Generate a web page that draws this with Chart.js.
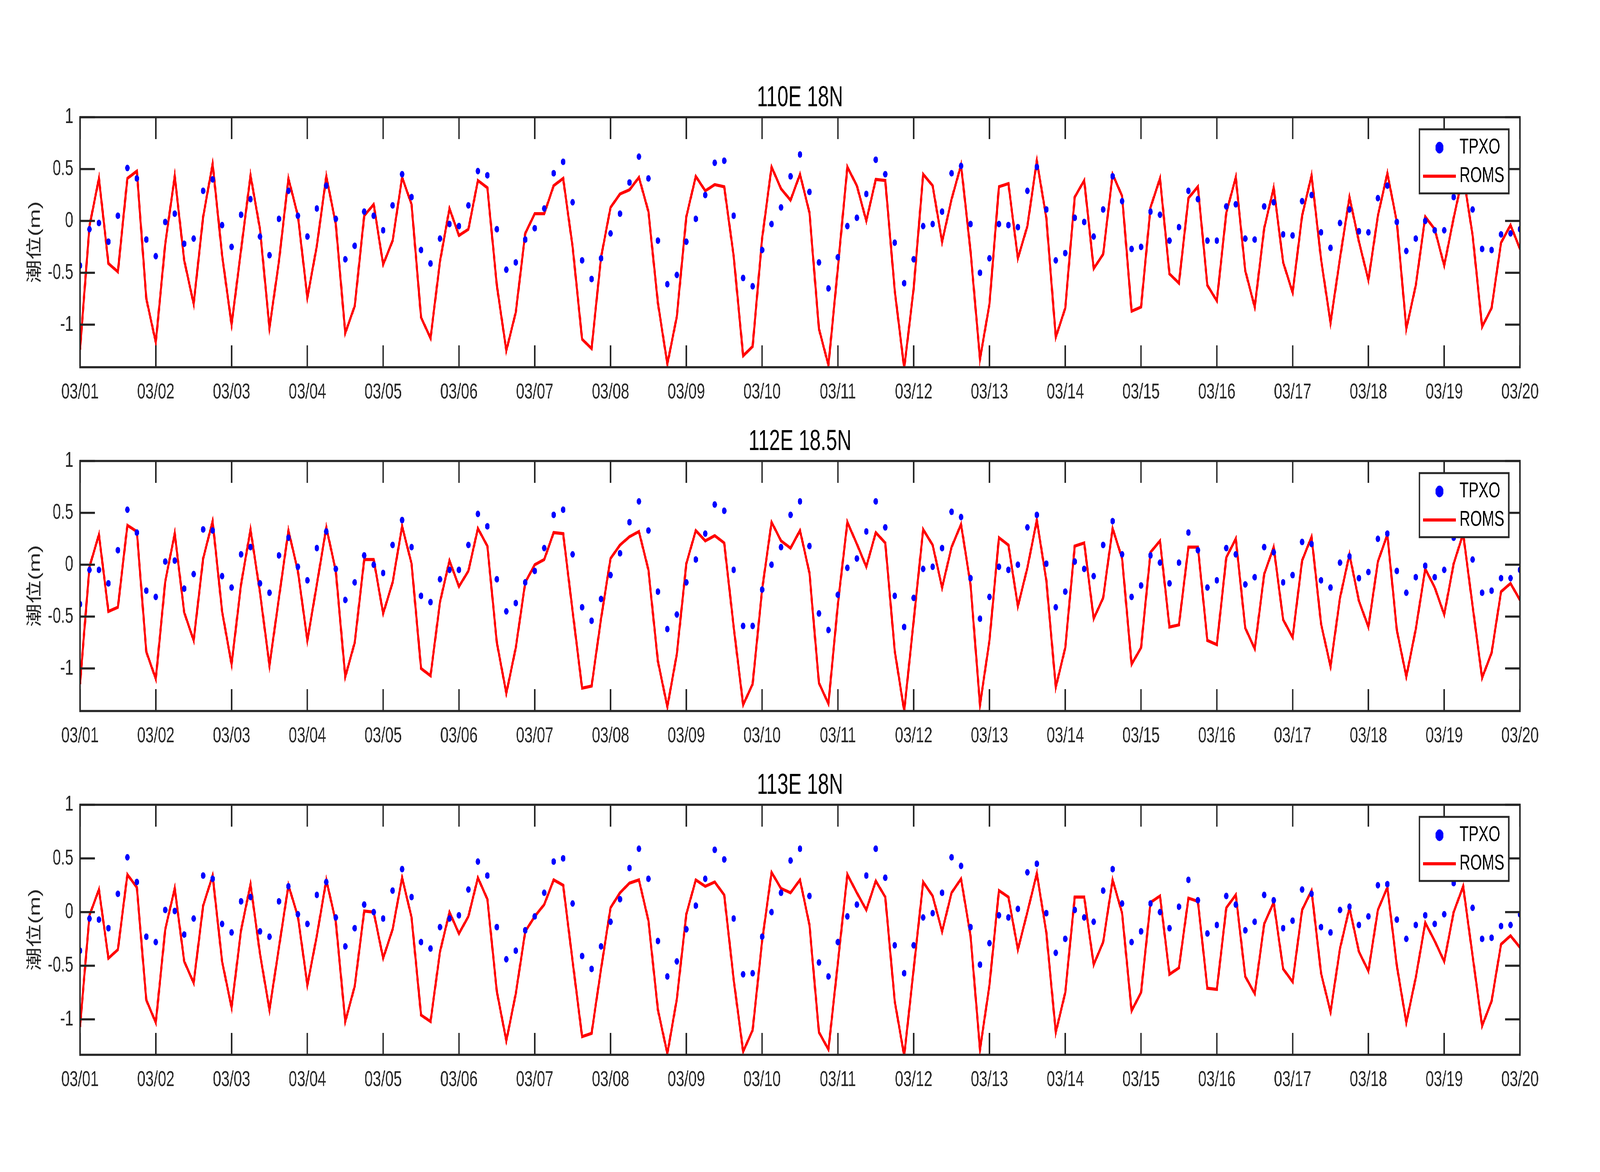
<!DOCTYPE html>
<html>
<head>
<meta charset="utf-8">
<script src="https://cdn.jsdelivr.net/npm/chart.js@4.4.1/dist/chart.umd.min.js"></script>
<style>
  html, body { margin: 0; padding: 0; background: #fff; overflow: hidden; }
  #stage { position: absolute; left: 0; top: 0; width: 6000px; height: 3000px; transform-origin: 0 0; background: #fff; }
  .panel { position: absolute; left: 0; width: 6000px; height: 1100px; }
</style>
</head>
<body>
<div id="stage">
  <div class="panel" style="top:0px"><canvas id="p110" width="6000" height="1100"></canvas></div>
  <div class="panel" style="top:880px"><canvas id="p112" width="6000" height="1100"></canvas></div>
  <div class="panel" style="top:1760px"><canvas id="p113" width="6000" height="1100"></canvas></div>
</div>
<script>
// the figure is laid out on a 6000x3000 stage and scaled to whatever window we get
const stage = document.getElementById('stage');
stage.style.transform = 'scale(' + (window.innerWidth / 6000) + ',' + (window.innerHeight / 3000) + ')';

// 03/01 00:00 .. 03/20 00:00, one value every 3 hours
const dayLabels = ['03/01', '03/02', '03/03', '03/04', '03/05', '03/06', '03/07', '03/08', '03/09', '03/10',
                   '03/11', '03/12', '03/13', '03/14', '03/15', '03/16', '03/17', '03/18', '03/19', '03/20'];
const stepsPerDay = 8;
const yTickVals = [-1, -0.5, 0, 0.5, 1];
const yTickLabels = ['-1', '-0.5', '0', '0.5', '1'];
const seriesNames = ['TPXO', 'ROMS'];
const yLabel = '潮位(m)';

const tpxo110 = [
  -0.43, -0.08, -0.02, -0.20, 0.05, 0.51, 0.41, -0.18,
  -0.34, -0.01, 0.07, -0.22, -0.17, 0.29, 0.40, -0.04,
  -0.25, 0.06, 0.21, -0.15, -0.33, 0.02, 0.29, 0.05,
  -0.15, 0.12, 0.34, 0.02, -0.37, -0.24, 0.09, 0.05,
  -0.09, 0.15, 0.45, 0.23, -0.28, -0.41, -0.17, -0.03,
  -0.05, 0.15, 0.48, 0.44, -0.08, -0.47, -0.40, -0.18,
  -0.07, 0.12, 0.46, 0.57, 0.18, -0.38, -0.56, -0.36,
  -0.12, 0.07, 0.37, 0.62, 0.41, -0.19, -0.61, -0.52,
  -0.20, 0.02, 0.25, 0.56, 0.58, 0.05, -0.55, -0.63,
  -0.28, -0.03, 0.13, 0.43, 0.64, 0.28, -0.40, -0.65,
  -0.35, -0.05, 0.03, 0.26, 0.59, 0.45, -0.21, -0.60,
  -0.37, -0.05, -0.03, 0.09, 0.46, 0.53, -0.03, -0.50,
  -0.36, -0.03, -0.04, -0.06, 0.29, 0.52, 0.11, -0.38,
  -0.31, 0.03, -0.01, -0.15, 0.11, 0.43, 0.19, -0.27,
  -0.25, 0.09, 0.06, -0.19, -0.06, 0.29, 0.21, -0.19,
  -0.19, 0.14, 0.16, -0.17, -0.18, 0.14, 0.18, -0.13,
  -0.14, 0.19, 0.25, -0.11, -0.26, -0.02, 0.11, -0.10,
  -0.11, 0.22, 0.34, -0.01, -0.29, -0.17, 0.00, -0.09,
  -0.09, 0.23, 0.32, 0.11, -0.27, -0.28, -0.13, -0.12,
  -0.08
];
const roms110 = [
  -1.24, -0.05, 0.41, -0.41, -0.49, 0.41, 0.48, -0.75,
  -1.17, -0.22, 0.43, -0.38, -0.80, 0.04, 0.55, -0.33,
  -1.00, -0.28, 0.44, -0.08, -1.03, -0.39, 0.41, 0.05,
  -0.74, -0.24, 0.43, -0.03, -1.08, -0.82, 0.05, 0.16,
  -0.42, -0.19, 0.42, 0.16, -0.93, -1.13, -0.39, 0.12,
  -0.14, -0.08, 0.39, 0.32, -0.62, -1.25, -0.88, -0.12,
  0.07, 0.07, 0.34, 0.41, -0.25, -1.14, -1.23, -0.35,
  0.13, 0.26, 0.30, 0.42, 0.09, -0.79, -1.38, -0.92,
  0.04, 0.43, 0.29, 0.35, 0.33, -0.34, -1.30, -1.21,
  -0.17, 0.52, 0.31, 0.20, 0.45, 0.08, -1.04, -1.39,
  -0.45, 0.52, 0.34, 0.00, 0.40, 0.39, -0.67, -1.42,
  -0.65, 0.45, 0.34, -0.20, 0.21, 0.54, -0.29, -1.33,
  -0.80, 0.33, 0.36, -0.36, -0.05, 0.58, 0.03, -1.12,
  -0.84, 0.23, 0.39, -0.46, -0.32, 0.45, 0.24, -0.87,
  -0.83, 0.13, 0.41, -0.51, -0.60, 0.22, 0.33, -0.62,
  -0.77, 0.08, 0.42, -0.48, -0.83, -0.07, 0.32, -0.40,
  -0.69, 0.05, 0.44, -0.37, -0.98, -0.36, 0.23, -0.20,
  -0.57, 0.05, 0.46, -0.01, -1.04, -0.62, 0.04, -0.08,
  -0.43, 0.03, 0.45, -0.14, -1.02, -0.84, -0.21, -0.04,
  -0.27
];
const tpxo112 = [
  -0.38, -0.05, -0.05, -0.18, 0.14, 0.53, 0.31, -0.25,
  -0.31, 0.03, 0.04, -0.23, -0.09, 0.34, 0.33, -0.11,
  -0.22, 0.10, 0.17, -0.18, -0.27, 0.09, 0.26, -0.02,
  -0.15, 0.16, 0.32, -0.04, -0.34, -0.17, 0.09, 0.00,
  -0.08, 0.19, 0.43, 0.17, -0.30, -0.36, -0.14, -0.05,
  -0.05, 0.19, 0.49, 0.37, -0.14, -0.45, -0.37, -0.17,
  -0.06, 0.16, 0.48, 0.53, 0.10, -0.41, -0.54, -0.33,
  -0.10, 0.11, 0.41, 0.61, 0.33, -0.26, -0.62, -0.48,
  -0.17, 0.05, 0.30, 0.58, 0.52, -0.05, -0.59, -0.59,
  -0.24, 0.00, 0.17, 0.48, 0.61, 0.18, -0.47, -0.63,
  -0.29, -0.03, 0.06, 0.32, 0.61, 0.36, -0.30, -0.60,
  -0.32, -0.04, -0.02, 0.16, 0.51, 0.46, -0.13, -0.52,
  -0.31, -0.02, -0.05, 0.00, 0.36, 0.48, 0.01, -0.41,
  -0.26, 0.03, -0.04, -0.11, 0.19, 0.42, 0.10, -0.31,
  -0.20, 0.09, 0.02, -0.18, 0.02, 0.31, 0.14, -0.22,
  -0.15, 0.16, 0.10, -0.19, -0.12, 0.17, 0.12, -0.17,
  -0.10, 0.22, 0.20, -0.15, -0.22, 0.02, 0.08, -0.13,
  -0.07, 0.25, 0.30, -0.06, -0.27, -0.12, -0.01, -0.12,
  -0.05, 0.26, 0.32, 0.05, -0.27, -0.25, -0.13, -0.13,
  -0.05
];
const roms112 = [
  -1.15, -0.02, 0.29, -0.45, -0.41, 0.38, 0.32, -0.84,
  -1.10, -0.16, 0.30, -0.46, -0.73, 0.06, 0.42, -0.45,
  -0.96, -0.19, 0.34, -0.27, -0.97, -0.32, 0.33, -0.06,
  -0.73, -0.19, 0.36, -0.06, -1.08, -0.75, 0.05, 0.05,
  -0.47, -0.17, 0.37, 0.01, -1.00, -1.07, -0.36, 0.04,
  -0.21, -0.06, 0.35, 0.18, -0.75, -1.24, -0.80, -0.17,
  0.00, 0.05, 0.31, 0.30, -0.45, -1.19, -1.17, -0.52,
  0.06, 0.19, 0.27, 0.32, -0.05, -0.93, -1.37, -0.86,
  0.01, 0.33, 0.23, 0.28, 0.21, -0.60, -1.35, -1.15,
  -0.24, 0.41, 0.23, 0.16, 0.33, -0.08, -1.14, -1.34,
  -0.38, 0.41, 0.20, -0.02, 0.31, 0.21, -0.83, -1.41,
  -0.54, 0.34, 0.19, -0.22, 0.17, 0.39, -0.19, -1.35,
  -0.73, 0.26, 0.19, -0.40, -0.03, 0.43, -0.15, -1.18,
  -0.80, 0.18, 0.21, -0.52, -0.32, 0.35, 0.06, -0.96,
  -0.80, 0.12, 0.23, -0.60, -0.58, 0.17, 0.17, -0.73,
  -0.77, 0.07, 0.25, -0.61, -0.81, -0.09, 0.17, -0.53,
  -0.70, 0.04, 0.27, -0.57, -0.98, -0.32, 0.10, -0.35,
  -0.60, 0.03, 0.29, -0.63, -1.08, -0.62, -0.04, -0.22,
  -0.48, 0.01, 0.30, -0.40, -1.09, -0.85, -0.26, -0.18,
  -0.34
];
const tpxo113 = [
  -0.36, -0.06, -0.07, -0.15, 0.17, 0.51, 0.28, -0.23,
  -0.28, 0.02, 0.01, -0.21, -0.06, 0.34, 0.31, -0.11,
  -0.19, 0.10, 0.14, -0.18, -0.23, 0.10, 0.24, -0.02,
  -0.11, 0.16, 0.28, -0.05, -0.32, -0.15, 0.07, 0.00,
  -0.06, 0.20, 0.40, 0.14, -0.28, -0.34, -0.14, -0.06,
  -0.03, 0.21, 0.47, 0.34, -0.14, -0.44, -0.36, -0.17,
  -0.04, 0.18, 0.47, 0.50, 0.08, -0.41, -0.53, -0.32,
  -0.09, 0.12, 0.41, 0.59, 0.31, -0.27, -0.60, -0.46,
  -0.16, 0.06, 0.31, 0.58, 0.49, -0.06, -0.58, -0.57,
  -0.23, 0.00, 0.18, 0.48, 0.59, 0.15, -0.47, -0.60,
  -0.28, -0.04, 0.07, 0.34, 0.59, 0.32, -0.31, -0.57,
  -0.31, -0.05, -0.01, 0.18, 0.51, 0.43, -0.14, -0.49,
  -0.29, -0.03, -0.05, 0.03, 0.37, 0.45, -0.01, -0.38,
  -0.25, 0.02, -0.05, -0.09, 0.20, 0.40, 0.08, -0.28,
  -0.18, 0.08, 0.00, -0.15, 0.05, 0.30, 0.11, -0.20,
  -0.12, 0.15, 0.07, -0.17, -0.09, 0.16, 0.11, -0.15,
  -0.08, 0.21, 0.17, -0.14, -0.19, 0.02, 0.05, -0.12,
  -0.04, 0.25, 0.26, -0.07, -0.25, -0.12, -0.03, -0.11,
  -0.02, 0.27, 0.33, 0.04, -0.25, -0.24, -0.13, -0.12,
  -0.02
];
const roms113 = [
  -1.07, -0.03, 0.21, -0.43, -0.35, 0.35, 0.23, -0.82,
  -1.03, -0.16, 0.22, -0.46, -0.66, 0.06, 0.34, -0.46,
  -0.89, -0.17, 0.26, -0.39, -0.91, -0.33, 0.25, -0.04,
  -0.68, -0.22, 0.30, -0.09, -1.02, -0.69, 0.01, 0.00,
  -0.43, -0.16, 0.32, -0.05, -0.96, -1.02, -0.37, 0.00,
  -0.20, -0.04, 0.32, 0.12, -0.74, -1.20, -0.76, -0.18,
  -0.04, 0.07, 0.30, 0.25, -0.46, -1.16, -1.13, -0.53,
  0.04, 0.18, 0.27, 0.30, -0.08, -0.91, -1.32, -0.81,
  -0.02, 0.30, 0.24, 0.28, 0.16, -0.63, -1.30, -1.10,
  -0.27, 0.37, 0.22, 0.18, 0.30, -0.12, -1.12, -1.28,
  -0.47, 0.35, 0.18, 0.02, 0.29, 0.14, -0.83, -1.34,
  -0.53, 0.28, 0.15, -0.18, 0.18, 0.31, -0.22, -1.28,
  -0.68, 0.20, 0.14, -0.35, 0.00, 0.36, -0.19, -1.12,
  -0.75, 0.14, 0.14, -0.49, -0.28, 0.30, -0.01, -0.92,
  -0.75, 0.09, 0.15, -0.58, -0.52, 0.13, 0.10, -0.71,
  -0.72, 0.04, 0.16, -0.60, -0.76, -0.11, 0.09, -0.53,
  -0.65, 0.02, 0.20, -0.57, -0.93, -0.34, 0.04, -0.37,
  -0.55, 0.02, 0.23, -0.50, -1.03, -0.61, -0.10, -0.27,
  -0.46, 0.00, 0.24, -0.41, -1.06, -0.83, -0.30, -0.22,
  -0.33
];

const panels = [
  { id: 'p110', title: '110E 18N',   yMin: -1.41, tpxo: tpxo110, roms: roms110 },
  { id: 'p112', title: '112E 18.5N', yMin: -1.41, tpxo: tpxo112, roms: roms112 },
  { id: 'p113', title: '113E 18N',   yMin: -1.33, tpxo: tpxo113, roms: roms113 }
];

const FONT = "'Liberation Sans', Arial, 'Noto Sans CJK SC', sans-serif";
const AXIS_COLOR = '#262626';
const TICK_LEN = 56;
const PLOT_TOP = 300;
const PLOT_H = 640;
const CANVAS_H = 1100;

// matlab style box: inside ticks on all four sides plus a boxed legend in the top right corner
const matlabAxes = {
  id: 'matlabAxes',
  afterDraw(chart) {
    const { ctx, chartArea: a, scales: { x, y } } = chart;
    ctx.save();
    ctx.strokeStyle = AXIS_COLOR;
    ctx.lineWidth = 5.5;
    ctx.beginPath();
    x.ticks.forEach(t => {
      const px = x.getPixelForValue(t.value);
      ctx.moveTo(px, a.bottom); ctx.lineTo(px, a.bottom - TICK_LEN);
      ctx.moveTo(px, a.top); ctx.lineTo(px, a.top + TICK_LEN);
    });
    y.ticks.forEach(t => {
      const py = y.getPixelForValue(t.value);
      ctx.moveTo(a.left, py); ctx.lineTo(a.left + TICK_LEN, py);
      ctx.moveTo(a.right, py); ctx.lineTo(a.right - TICK_LEN, py);
    });
    ctx.stroke();
    ctx.strokeRect(a.left, a.top, a.right - a.left, a.bottom - a.top);

    // legend
    const bx = a.right - 377, by = a.top + 31, bw = 335, bh = 164;
    ctx.fillStyle = '#fff';
    ctx.fillRect(bx, by, bw, bh);
    ctx.lineWidth = 5;
    ctx.strokeRect(bx, by, bw, bh);
    const rows = [a.top + 78, a.top + 151];
    const [dots, line] = chart.data.datasets;
    ctx.fillStyle = dots.backgroundColor;
    ctx.beginPath();
    ctx.arc(a.right - 302, rows[0], 15, 0, Math.PI * 2);
    ctx.fill();
    ctx.strokeStyle = line.borderColor;
    ctx.lineWidth = 8;
    ctx.beginPath();
    ctx.moveTo(a.right - 364, rows[1]);
    ctx.lineTo(a.right - 240, rows[1]);
    ctx.stroke();
    ctx.fillStyle = '#000';
    ctx.font = '56px ' + FONT;
    ctx.textAlign = 'left';
    ctx.textBaseline = 'middle';
    ctx.fillText(dots.label, a.right - 227, rows[0]);
    ctx.fillText(line.label, a.right - 227, rows[1]);
    ctx.restore();
  }
};

function toPoints(values) {
  return values.map((v, i) => ({ x: i / stepsPerDay, y: v }));
}

panels.forEach(p => {
  const ctx = document.getElementById(p.id).getContext('2d');
  new Chart(ctx, {
    type: 'line',
    data: {
      datasets: [{
        label: seriesNames[0],
        data: toPoints(p.tpxo),
        showLine: false,
        pointRadius: 8.5,
        pointBorderWidth: 0,
        backgroundColor: '#0000ff',
        borderColor: '#0000ff'
      }, {
        label: seriesNames[1],
        data: toPoints(p.roms),
        borderColor: '#ff0000',
        backgroundColor: '#ff0000',
        borderWidth: 8,
        pointRadius: 0,
        tension: 0
      }]
    },
    options: {
      responsive: false,
      animation: false,
      devicePixelRatio: 1,
      layout: { padding: { left: 0, right: 300, top: 0, bottom: 0 } },
      plugins: {
        legend: { display: false },
        tooltip: { enabled: false },
        title: {
          display: true,
          fullSize: false,
          text: p.title,
          color: '#000',
          font: { family: FONT, size: 74, weight: 'normal', lineHeight: 1.2 },
          padding: { top: 207, bottom: 4.2 }
        }
      },
      scales: {
        x: {
          type: 'linear',
          min: 0,
          max: dayLabels.length - 1,
          grid: { display: false, drawTicks: false },
          border: { display: false },
          afterBuildTicks: s => { s.ticks = dayLabels.map((_, d) => ({ value: d })); },
          afterFit: s => { s.height = CANVAS_H - PLOT_TOP - PLOT_H; },
          ticks: {
            autoSkip: false,
            maxRotation: 0,
            padding: 31,
            color: AXIS_COLOR,
            font: { family: FONT, size: 56 },
            callback: v => dayLabels[v]
          }
        },
        y: {
          min: p.yMin,
          max: 1,
          grid: { display: false, drawTicks: false },
          border: { display: false },
          afterBuildTicks: s => { s.ticks = yTickVals.map(v => ({ value: v })); },
          afterFit: s => { s.width = 300; },
          ticks: {
            padding: 25,
            color: AXIS_COLOR,
            font: { family: FONT, size: 56 },
            callback: v => yTickLabels[yTickVals.indexOf(v)]
          },
          title: {
            display: true,
            text: yLabel,
            color: AXIS_COLOR,
            font: { family: FONT, size: 60 },
            padding: { top: 96, bottom: 0 }
          }
        }
      }
    },
    plugins: [matlabAxes]
  });
});
</script>
</body>
</html>
